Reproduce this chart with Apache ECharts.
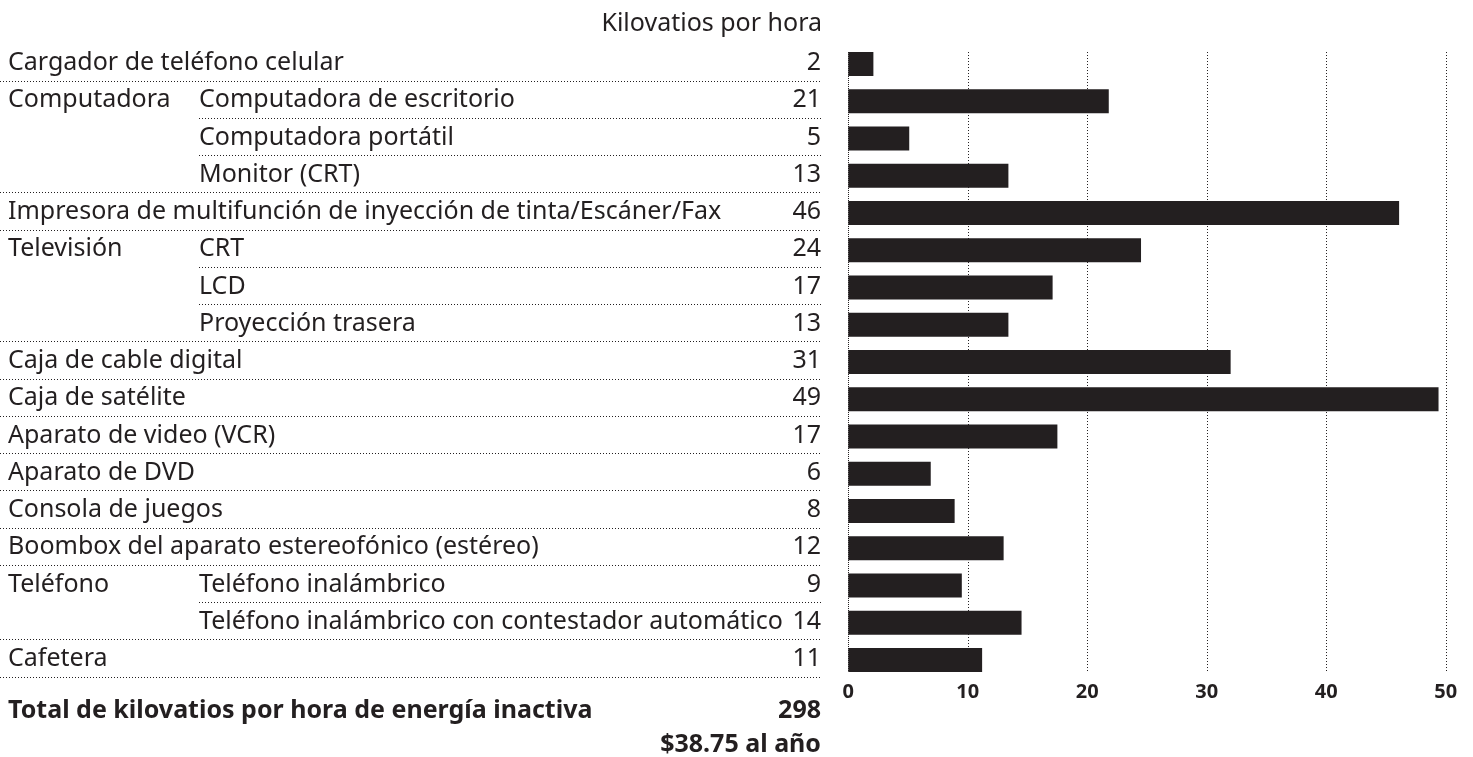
<!DOCTYPE html>
<html>
<head>
<meta charset="utf-8">
<script src="https://cdn.jsdelivr.net/npm/echarts@6/dist/echarts.min.js"></script>
<style>
  html, body { margin: 0; padding: 0; background: #ffffff; }
  #chart { width: 1473px; height: 757px; }
</style>
</head>
<body>
<div id="chart"></div>
<script>
// ---------- DATA ----------
const groups = ["", "Computadora", "Computadora", "Computadora", "", "Televisión", "Televisión", "Televisión", "", "", "", "", "", "", "Teléfono", "Teléfono", ""];
const items = [
  "Cargador de teléfono celular",
  "Computadora de escritorio",
  "Computadora portátil",
  "Monitor (CRT)",
  "Impresora de multifunción de inyección de tinta/Escáner/Fax",
  "CRT",
  "LCD",
  "Proyección trasera",
  "Caja de cable digital",
  "Caja de satélite",
  "Aparato de video (VCR)",
  "Aparato de DVD",
  "Consola de juegos",
  "Boombox del aparato estereofónico (estéreo)",
  "Teléfono inalámbrico",
  "Teléfono inalámbrico con contestador automático",
  "Cafetera"
];
const printedKwh = [2, 21, 5, 13, 46, 24, 17, 13, 31, 49, 17, 6, 8, 12, 9, 14, 11];
const barKwh = [2.1, 21.8, 5.1, 13.4, 46.1, 24.5, 17.1, 13.4, 32.0, 49.4, 17.5, 6.9, 8.9, 13.0, 9.5, 14.5, 11.2];
const xTicks = [0, 10, 20, 30, 40, 50];
const unitLabel = "Kilovatios por hora";
const totalLabel = "Total de kilovatios por hora de energía inactiva";
const totalKwh = 298;
const costLabel = "$38.75 al año";

// ---------- STYLE ----------
const INK = "#231f20";
const FONT = '"Noto Sans", "Open Sans", sans-serif';
const FS = 25;
const GRID_TOP = 45.4;
const GRID_H = 633.2;
const SUB_X = 199;
const BAR_W = 24;

const chart = echarts.init(document.getElementById('chart'), null, { renderer: 'canvas' });

function renderRow(params, api) {
  const i = params.dataIndex;
  const cs = params.coordSys;
  const yc = api.coord([0, i])[1];
  const band = api.size([0, 1])[1];
  const ty = yc - 1;
  const children = [];
  const mk = (txt, x, align) => ({
    type: 'text', x: x, y: ty,
    style: { text: txt, fill: INK, fontSize: FS, fontFamily: FONT, align: align, verticalAlign: 'middle' }
  });
  if (groups[i]) {
    if (groups[i] !== groups[i - 1]) children.push(mk(groups[i], cs.x + 8, 'left'));
    children.push(mk(items[i], cs.x + SUB_X, 'left'));
  } else {
    children.push(mk(items[i], cs.x + 8, 'left'));
  }
  children.push(mk(String(printedKwh[i]), cs.x + cs.width - 1, 'right'));
  const cont = i + 1 < items.length && groups[i + 1] && groups[i + 1] === groups[i];
  const ly = Math.round(yc + band / 2 - 2) + 0.5;
  children.push({
    type: 'line',
    shape: { x1: cont ? cs.x + SUB_X : cs.x, y1: ly, x2: cs.x + cs.width, y2: ly },
    style: { stroke: INK, lineWidth: 1, lineDash: [1, 2] }
  });
  return { type: 'group', children: children };
}

function renderGridLine(params, api) {
  const v = api.value(0);
  const x = Math.round(api.coord([v, 0])[0]) + 0.5;
  const y1 = api.coord([v, 0])[1] - BAR_W / 2;
  const y2 = api.coord([v, items.length - 1])[1] + BAR_W / 2;
  return {
    type: 'line',
    shape: { x1: x, y1: y1, x2: x, y2: y2 },
    style: { stroke: INK, lineWidth: 1, lineDash: v === 0 ? [1, 1] : [1, 2] }
  };
}

const option = {
  backgroundColor: '#ffffff',
  animation: false,
  title: [
    { text: unitLabel, right: 651, top: 11, textStyle: { color: INK, fontSize: FS, fontWeight: 'normal', fontFamily: FONT }, padding: 0 },
    { text: totalLabel, left: 8, top: 698, textStyle: { color: INK, fontSize: FS, fontWeight: 'bold', fontFamily: FONT }, padding: 0 },
    { text: String(totalKwh), right: 652, top: 698, textStyle: { color: INK, fontSize: FS, fontWeight: 'bold', fontFamily: FONT }, padding: 0 },
    { text: costLabel, right: 652, top: 732, textStyle: { color: INK, fontSize: FS, fontWeight: 'bold', fontFamily: FONT }, padding: 0 }
  ],
  grid: [
    { left: 848.3, right: 27.3, top: GRID_TOP, height: GRID_H, containLabel: false },
    { left: 0, width: 822, top: GRID_TOP, height: GRID_H, containLabel: false }
  ],
  xAxis: [
    {
      gridIndex: 0, type: 'value', min: xTicks[0], max: xTicks[xTicks.length - 1], interval: 10,
      axisLine: { show: false }, axisTick: { show: false },
      splitLine: { show: false },
      axisLabel: { color: INK, fontSize: 20, fontWeight: 'bold', fontFamily: FONT, margin: 4 }
    },
    { gridIndex: 1, type: 'value', min: 0, max: 1, show: false }
  ],
  yAxis: [
    { gridIndex: 0, type: 'category', data: items, inverse: true, axisLine: { show: false }, axisTick: { show: false }, axisLabel: { show: false }, splitLine: { show: false } },
    { gridIndex: 1, type: 'category', data: items, inverse: true, show: false }
  ],
  series: [
    {
      type: 'custom', xAxisIndex: 0, yAxisIndex: 0, renderItem: renderGridLine,
      data: xTicks.map(v => [v, 0]), silent: true, clip: false, z: 1
    },
    {
      type: 'bar', xAxisIndex: 0, yAxisIndex: 0, data: barKwh, barWidth: BAR_W,
      itemStyle: { color: INK }, silent: true, z: 2
    },
    {
      type: 'custom', xAxisIndex: 1, yAxisIndex: 1, renderItem: renderRow,
      data: items.map((_, i) => [0, i]), silent: true, clip: false
    }
  ]
};
chart.setOption(option);
</script>
</body>
</html>
